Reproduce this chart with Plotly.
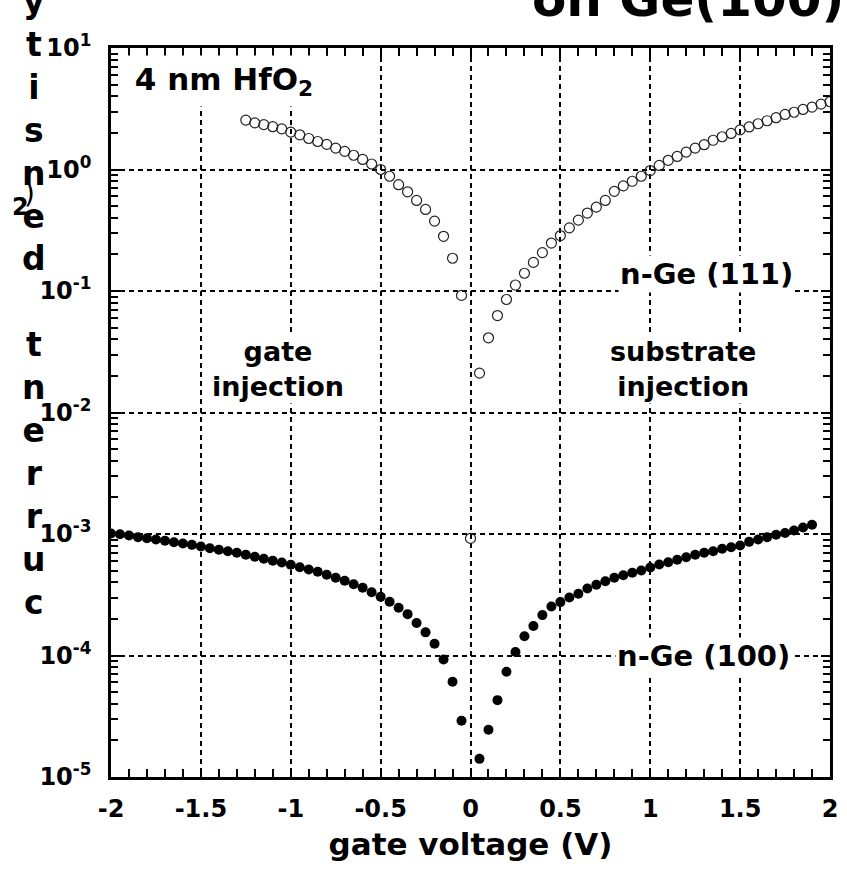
import plotly.graph_objects as go

# n-Ge (111), open circles
v111_left = [-1.25, -1.20, -1.15, -1.10, -1.05, -1.00, -0.95, -0.90, -0.85, -0.80,
             -0.75, -0.70, -0.65, -0.60, -0.55, -0.50, -0.45, -0.40, -0.35, -0.30,
             -0.25, -0.20, -0.15, -0.10, -0.05, 0.00]
j111_left = [2.55, 2.42, 2.34, 2.25, 2.16, 2.03, 1.93, 1.80, 1.70, 1.61,
             1.50, 1.41, 1.31, 1.21, 1.11, 1.00, 0.88, 0.75, 0.655, 0.556,
             0.469, 0.376, 0.282, 0.186, 0.092, 0.00092]
v111_right = [0.05, 0.10, 0.15, 0.20, 0.25, 0.30, 0.35, 0.40, 0.45, 0.50,
              0.55, 0.60, 0.65, 0.70, 0.75, 0.80, 0.85, 0.90, 0.95, 1.00,
              1.05, 1.10, 1.15, 1.20, 1.25, 1.30, 1.35, 1.40, 1.45, 1.50,
              1.55, 1.60, 1.65, 1.70, 1.75, 1.80, 1.85, 1.90, 1.95, 2.00]
j111_right = [0.0211, 0.0412, 0.0628, 0.0851, 0.112, 0.140, 0.172, 0.207, 0.248, 0.286,
              0.331, 0.383, 0.438, 0.490, 0.556, 0.661, 0.733, 0.80, 0.88, 0.98,
              1.08, 1.19, 1.28, 1.39, 1.50, 1.60, 1.74, 1.86, 1.98, 2.12,
              2.24, 2.38, 2.52, 2.67, 2.84, 2.96, 3.12, 3.26, 3.45, 3.61]

# n-Ge (100), filled circles
v100_left = [-2.00, -1.95, -1.90, -1.85, -1.80, -1.75, -1.70, -1.65, -1.60, -1.55,
             -1.50, -1.45, -1.40, -1.35, -1.30, -1.25, -1.20, -1.15, -1.10, -1.05,
             -1.00, -0.95, -0.90, -0.85, -0.80, -0.75, -0.70, -0.65, -0.60, -0.55,
             -0.50, -0.45, -0.40, -0.35, -0.30, -0.25, -0.20, -0.15, -0.10, -0.05]
j100_left = [1.01e-3, 0.996e-3, 0.973e-3, 0.942e-3, 0.924e-3, 0.901e-3, 0.879e-3, 0.856e-3, 0.835e-3, 0.814e-3,
             0.789e-3, 0.764e-3, 0.741e-3, 0.722e-3, 0.700e-3, 0.674e-3, 0.649e-3, 0.625e-3, 0.602e-3, 0.582e-3,
             0.558e-3, 0.533e-3, 0.511e-3, 0.489e-3, 0.462e-3, 0.436e-3, 0.412e-3, 0.386e-3, 0.361e-3, 0.332e-3,
             0.304e-3, 0.277e-3, 0.247e-3, 0.219e-3, 0.185e-3, 0.155e-3, 0.125e-3, 0.0927e-3, 0.0608e-3, 0.0290e-3]
v100_right = [0.05, 0.10, 0.15, 0.20, 0.25, 0.30, 0.35, 0.40, 0.45, 0.50,
              0.55, 0.60, 0.65, 0.70, 0.75, 0.80, 0.85, 0.90, 0.95, 1.00,
              1.05, 1.10, 1.15, 1.20, 1.25, 1.30, 1.35, 1.40, 1.45, 1.50,
              1.55, 1.60, 1.65, 1.70, 1.75, 1.80, 1.85, 1.90]
j100_right = [1.41e-5, 2.45e-5, 4.29e-5, 7.34e-5, 1.07e-4, 1.44e-4, 1.75e-4, 2.15e-4, 2.53e-4, 2.75e-4,
              3.00e-4, 3.22e-4, 3.56e-4, 3.82e-4, 4.09e-4, 4.36e-4, 4.58e-4, 4.80e-4, 5.01e-4, 5.30e-4,
              5.61e-4, 5.86e-4, 6.14e-4, 6.44e-4, 6.74e-4, 7.00e-4, 7.22e-4, 7.55e-4, 7.78e-4, 8.04e-4,
              8.62e-4, 9.01e-4, 9.41e-4, 9.85e-4, 1.02e-3, 1.07e-3, 1.13e-3, 1.19e-3]

x_ticks = [-2, -1.5, -1, -0.5, 0, 0.5, 1, 1.5, 2]
x_ticktext = ["-2", "-1.5", "-1", "-0.5", "0", "0.5", "1", "1.5", "2"]
y_ticks = [1e-5, 1e-4, 1e-3, 1e-2, 1e-1, 1e0, 1e1]
y_ticktext = ["10<sup>-5</sup>", "10<sup>-4</sup>", "10<sup>-3</sup>", "10<sup>-2</sup>",
              "10<sup>-1</sup>", "10<sup>0</sup>", "10<sup>1</sup>"]
x_minor = [round(-2 + 0.1 * i, 2) for i in range(41)]
y_minor = [m * 10.0 ** e for e in range(-5, 1) for m in range(2, 10)]

FONT = "DejaVu Sans"

fig = go.Figure()
fig.add_trace(go.Scatter(
    x=v100_left + v100_right, y=j100_left + j100_right, mode="markers",
    marker=dict(symbol="circle", size=10, color="black"), showlegend=False))
fig.add_trace(go.Scatter(
    x=v111_left + v111_right, y=j111_left + j111_right, mode="markers",
    marker=dict(symbol="circle-open", size=10, color="#222", line=dict(width=1.2)),
    showlegend=False))

axis_common = dict(
    showline=True, linecolor="black", linewidth=2.5, mirror="allticks",
    ticks="inside", ticklen=9, tickwidth=2, tickcolor="black",
    showgrid=True, gridcolor="black", gridwidth=2, griddash="5px,4px",
    zeroline=False,
)

fig.update_xaxes(
    range=[-2, 2], tickvals=x_ticks, ticktext=x_ticktext,
    tickfont=dict(family=FONT, size=24, color="black", weight="bold"),
    ticklabelstandoff=8,
    minor=dict(tickvals=x_minor, ticks="inside", ticklen=8, tickwidth=2, tickcolor="black", showgrid=False),
    title=dict(text="gate voltage (V)", font=dict(family=FONT, size=31, color="black", weight="bold"), standoff=12),
    **axis_common)
fig.update_yaxes(
    type="log", range=[-5, 1], tickvals=y_ticks, ticktext=y_ticktext,
    tickfont=dict(family=FONT, size=24, color="black", weight="bold"),
    ticklabelstandoff=12,
    minor=dict(tickvals=y_minor, ticks="inside", ticklen=7, tickwidth=2, tickcolor="black", showgrid=False),
    **axis_common)

ann_font = dict(family=FONT, color="black", weight="bold")
annotations = [
    dict(x=0.0138, y=0.990, xref="paper", yref="paper", xanchor="left", yanchor="top",
         text="4 nm HfO<sub>2</sub>", font=dict(size=31, **ann_font), bgcolor="white",
         width=204, height=50, align="center", valign="middle", borderpad=0),
    dict(x=-1.07, y=-1.646, xref="x", yref="y", text="gate<br>injection",
         font=dict(size=27, **ann_font), bgcolor="white"),
    dict(x=1.18, y=-1.646, xref="x", yref="y", text="substrate<br>injection",
         font=dict(size=27, **ann_font), bgcolor="white"),
    dict(x=1.807, y=-0.864, xref="x", yref="y", xanchor="right", text="n-Ge (111)",
         font=dict(size=29, **ann_font), bgcolor="white"),
    dict(x=1.791, y=-4.0, xref="x", yref="y", xanchor="right", text="n-Ge (100)",
         font=dict(size=29, **ann_font), bgcolor="white"),
    dict(x=1.0, y=1.0, xref="paper", yref="paper", xanchor="right", yanchor="bottom",
         xshift=16, yshift=18, text="on Ge(100)", font=dict(size=50, **ann_font)),
    dict(x=-0.107, y=0.652, xref="paper", yref="paper", xanchor="center", yanchor="middle",
         text="y<br>t<br>i<br>s<br>n<br>e<br>d<br> <br>t<br>n<br>e<br>r<br>r<br>u<br>c",
         font=dict(size=33, **ann_font)),
    dict(x=-0.1265, y=0.782, xref="paper", yref="paper", xanchor="center", yanchor="middle",
         text="2", font=dict(size=24, **ann_font)),
    dict(x=-0.113, y=0.801, xref="paper", yref="paper", xanchor="center", yanchor="middle",
         text=")", font=dict(size=28, family=FONT, color="black")),
]
for a in annotations:
    a.setdefault("showarrow", False)
fig.update_layout(annotations=annotations)

fig.update_layout(
    width=847, height=884,
    margin=dict(l=111, r=9, t=48, b=107),
    paper_bgcolor="white", plot_bgcolor="white",
)
fig.write_html("out.html")
